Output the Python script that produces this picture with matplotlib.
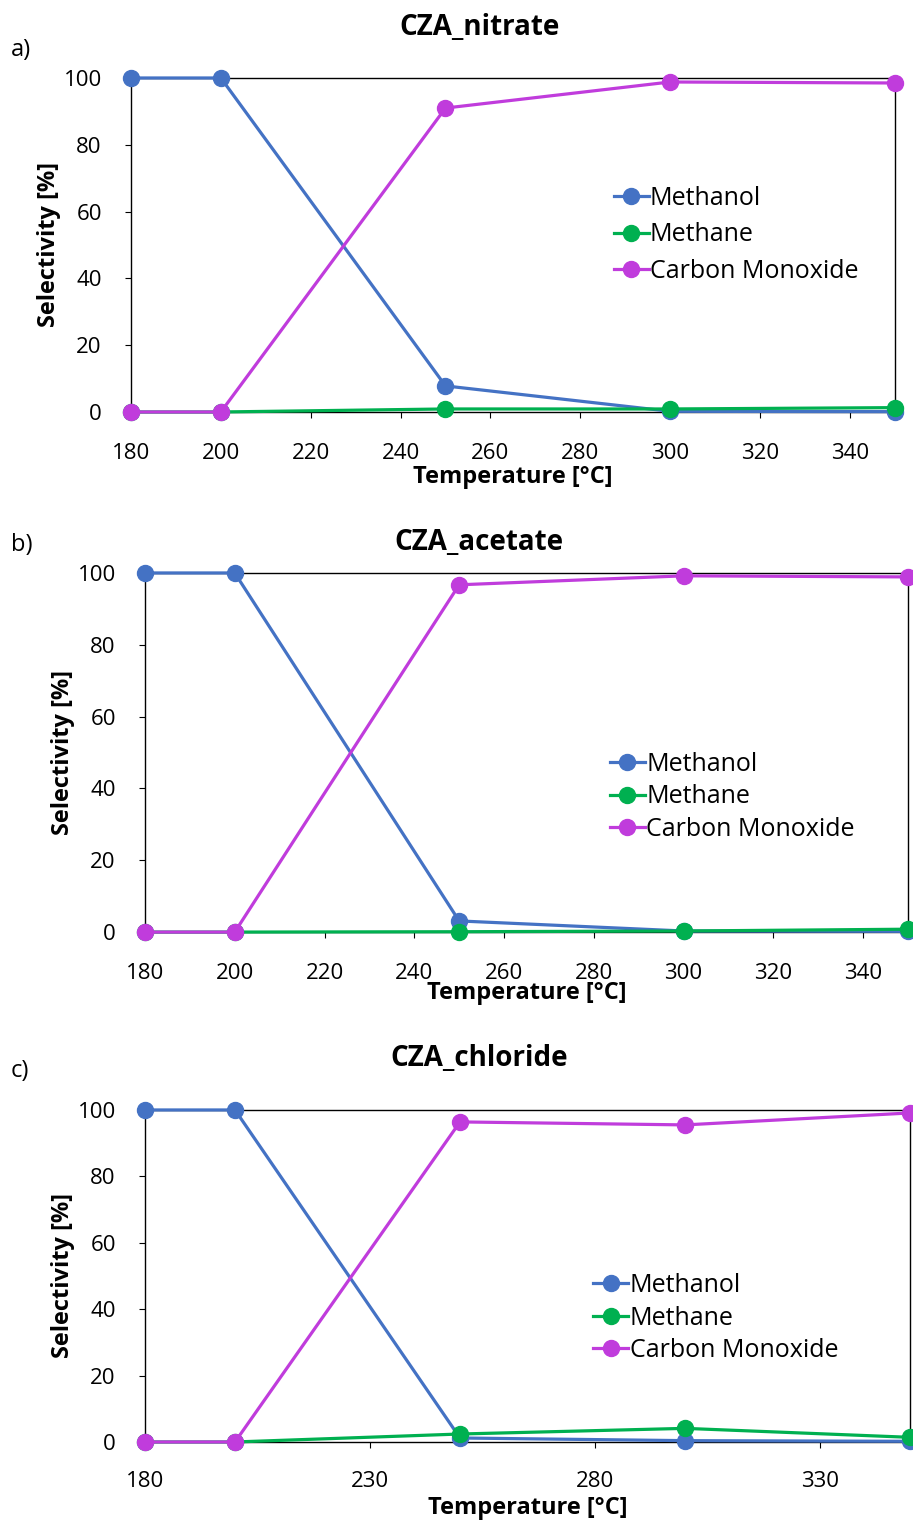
import matplotlib
matplotlib.use("Agg")
import matplotlib.pyplot as plt

# temperatures [°C]
temps = [180, 200, 250, 300, 350]

# selectivity [%] per catalyst
nitrate_methanol = [100, 100, 7.8, 0.2, 0.1]
nitrate_methane = [0, 0, 0.9, 0.9, 1.3]
nitrate_co = [0, 0, 91.0, 98.8, 98.5]

acetate_methanol = [100, 100, 3.1, 0.3, 0.2]
acetate_methane = [0, 0, 0.1, 0.3, 0.8]
acetate_co = [0, 0, 96.7, 99.2, 98.9]

chloride_methanol = [100, 100, 1.2, 0.4, 0.2]
chloride_methane = [0, 0, 2.4, 4.1, 1.4]
chloride_co = [0, 0, 96.4, 95.5, 99.1]

titles = ["CZA_nitrate", "CZA_acetate", "CZA_chloride"]
letters = ["a)", "b)", "c)"]
series_names = ["Methanol", "Methane", "Carbon Monoxide"]
xticks_ab = [180, 200, 220, 240, 260, 280, 300, 320, 340]
xticks_c = [180, 230, 280, 330]

COLORS = ["#4472C4", "#00B050", "#C03CDC"]

plt.rcParams["font.family"] = ["Open Sans", "DejaVu Sans"]

fig = plt.figure(figsize=(9.13, 15.23), dpi=100)

# axes rect, legend anchor (fig coords), legend row spacing, title y, letter y,
# x tick pad, xlabel y (axes coords)
panels = [
    ([0.1435, 0.7295, 0.8365, 0.2193], (0.672, 0.8457), 0.45, 0.982, 0.967, 18, -0.195),
    ([0.1588, 0.3880, 0.8357, 0.2358], (0.668, 0.4767), 0.30, 0.6435, 0.642, 18, -0.170),
    ([0.1588, 0.0532, 0.8380, 0.2180], (0.650, 0.1346), 0.30, 0.3053, 0.2968, 17, -0.199),
]
data = [
    (nitrate_methanol, nitrate_methane, nitrate_co),
    (acetate_methanol, acetate_methane, acetate_co),
    (chloride_methanol, chloride_methane, chloride_co),
]

for i, (rect, leg_pos, lsp, ty, ly, xpad, xly) in enumerate(panels):
    ax = fig.add_axes(rect)
    for vals, name, col in zip(data[i], series_names, COLORS):
        ax.plot(temps, vals, color=col, lw=2.3, marker="o", ms=11.5,
                label=name, clip_on=False, zorder=3)
    ax.set_xlim(180, 350)
    ax.set_ylim(0, 100)
    ax.set_yticks([0, 20, 40, 60, 80, 100])
    ax.set_xticks(xticks_c if i == 2 else xticks_ab)
    ax.tick_params(axis="x", direction="out", length=4, width=0.8, labelsize=16, pad=xpad)
    ax.tick_params(axis="y", direction="out", length=4, width=0.8, labelsize=16, pad=17)
    for s in ax.spines.values():
        s.set_linewidth(1.0)
        s.set_color("black")
    ax.set_xlabel("Temperature [°C]", fontsize=17, fontweight="bold", va="center")
    ax.xaxis.set_label_coords(0.5, xly)
    ax.set_ylabel("Selectivity [%]", fontsize=17, fontweight="bold", labelpad=2)
    ax.legend(loc="center left", bbox_to_anchor=leg_pos,
              bbox_transform=fig.transFigure, frameon=False,
              fontsize=18, handlelength=1.4, handletextpad=0.05,
              labelspacing=lsp, borderaxespad=0, borderpad=0)
    fig.text(0.525, ty, titles[i], ha="center", va="center", fontsize=20,
             fontweight="bold")
    fig.text(0.012, ly, letters[i], ha="left", va="center", fontsize=17)

fig.savefig("out.png", dpi=100)
